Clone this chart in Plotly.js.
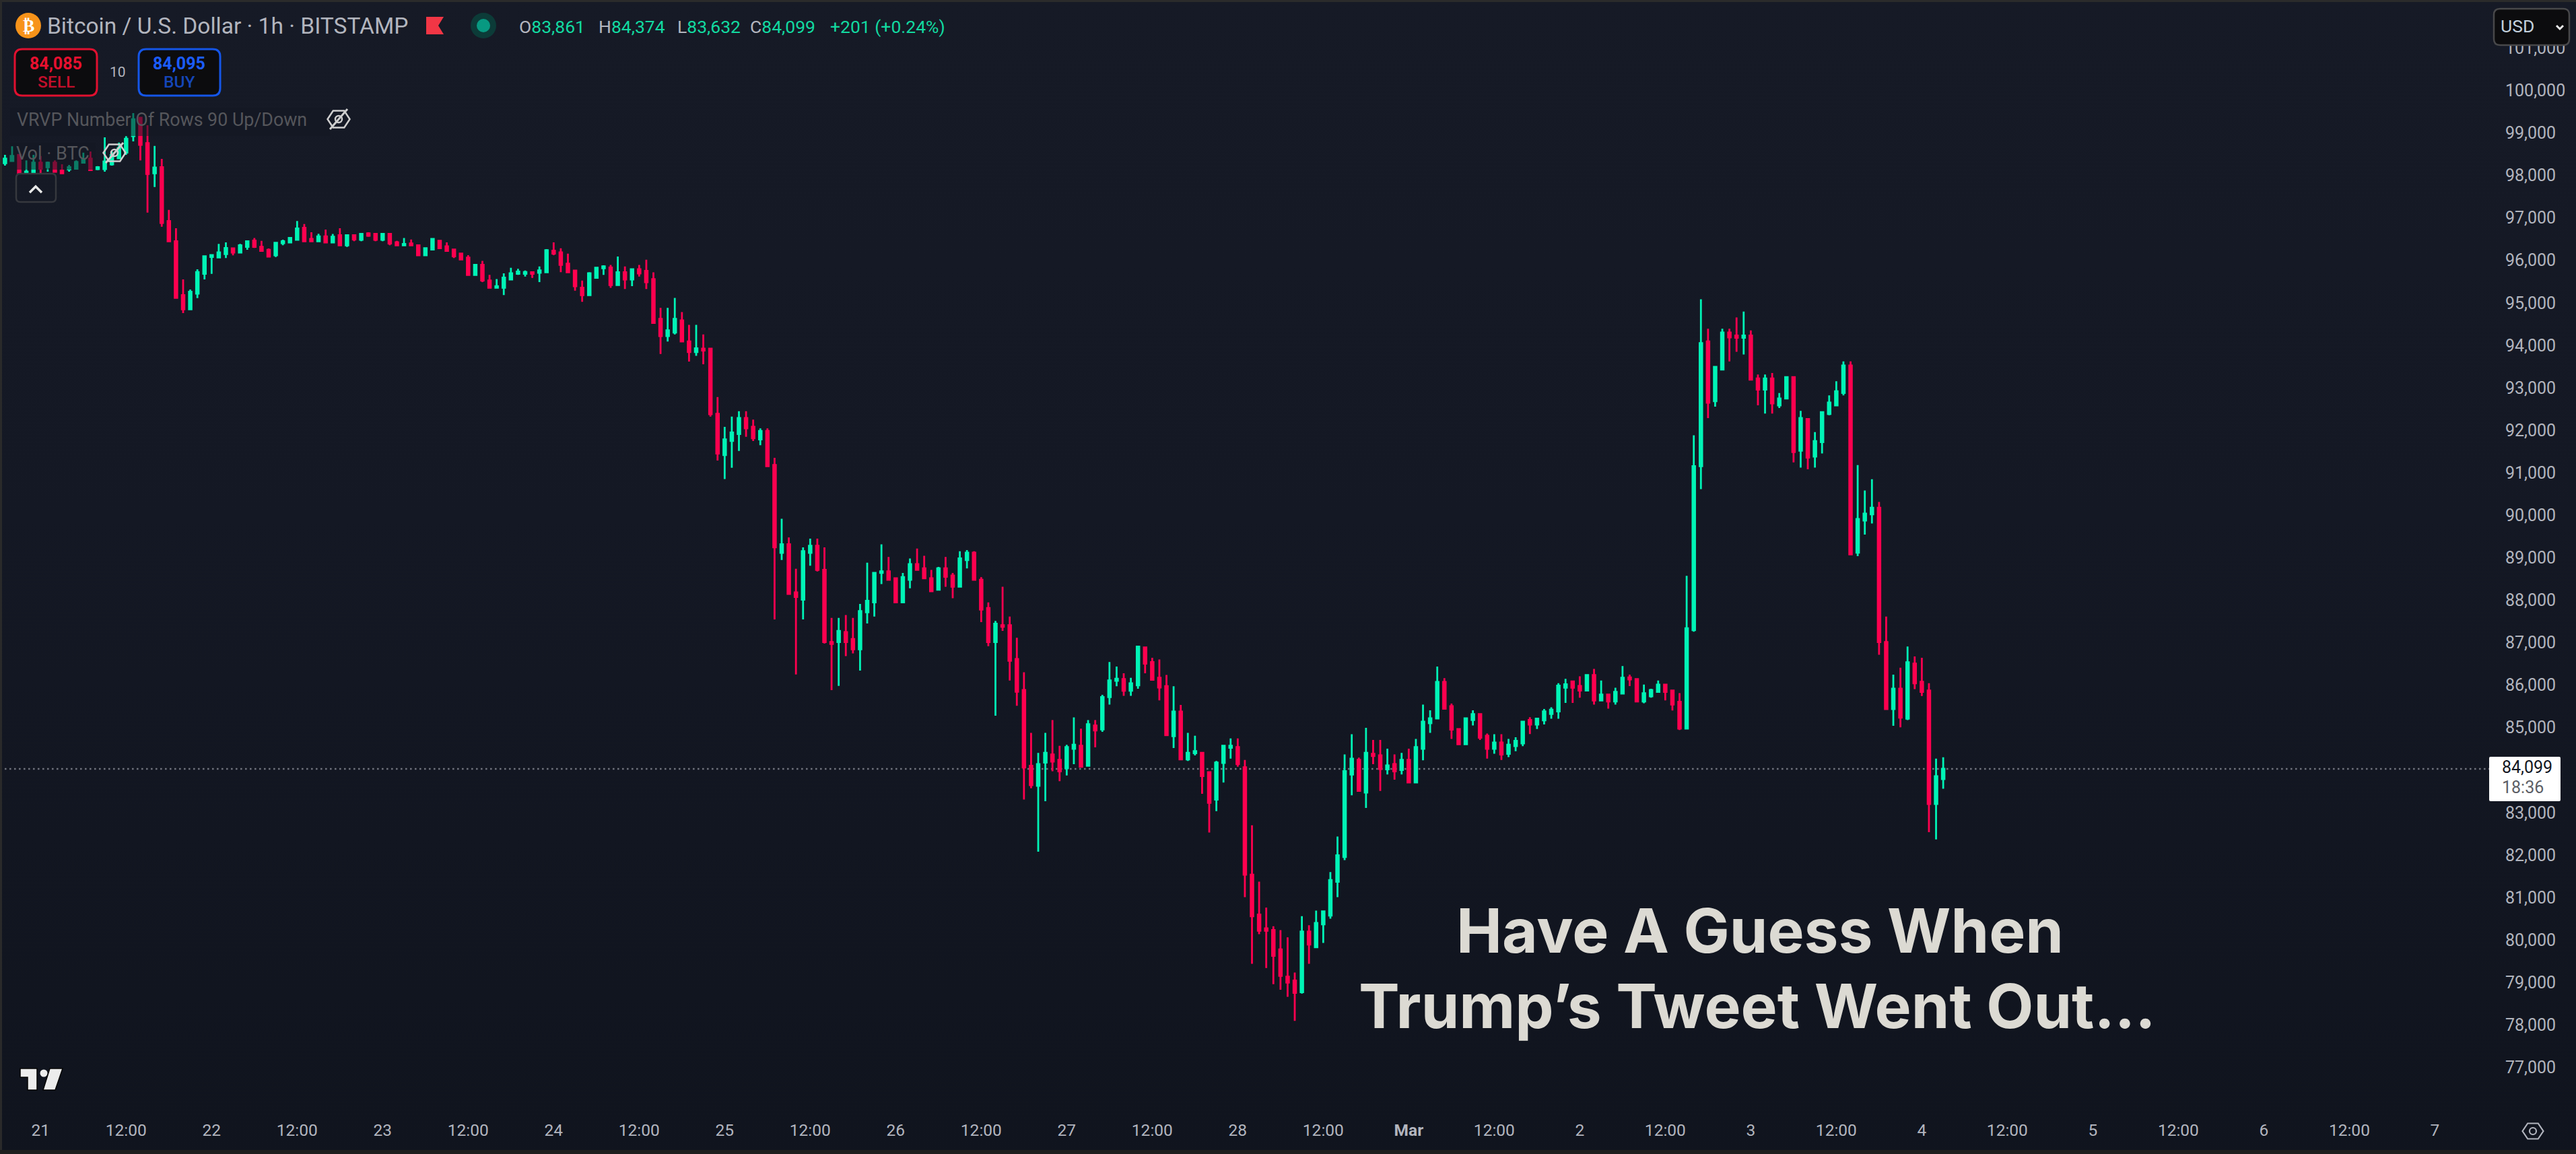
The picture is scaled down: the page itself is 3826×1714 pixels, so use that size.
<!DOCTYPE html>
<html><head><meta charset="utf-8">
<script src="https://cdn.plot.ly/plotly-3.0.1.min.js"></script>
<style>html,body{margin:0;padding:0;width:3826px;height:1714px;overflow:hidden;background:linear-gradient(180deg,#161a26 0%,#141824 45%,#10141e 100%)}#chart{width:3826px;height:1714px}</style>
</head><body><div id="chart"></div>
<script>
const firstBar = '2025-02-20T19:00:00';
const opens = [98359,98411,98554,98121,98121,98369,98263,98369,98184,98211,98227,98369,98464,98221,98221,98332,98475,98607,98998,99426,
98829,98121,98263,96996,96520,95252,94919,95289,95754,96150,
96140,96219,96351,96256,96388,96536,96388,96319,96193,96478,
96494,96557,96837,96573,96520,96636,96494,96663,96425,96663,
96557,96705,96694,96557,96694,96494,96425,96467,96425,96192,
96325,96531,96399,96325,96230,96134,95728,95965,95595,95426,
95426,95622,95754,95754,95791,95780,95791,96298,96256,95992,
95828,95426,95252,95659,95886,95902,95490,95791,95622,95860,
95823,95626,94692,94289,94374,94657,94162,93914,93992,93992,
92456,91487,91820,91982,92357,92152,91855,92053,91254,89187,
89385,88253,88083,89187,89350,88784,87086,87086,87319,87157,
86916,87786,88020,88713,88749,88586,88020,88550,88918,88819,
88586,88317,88819,88650,88388,89017,89187,88550,87885,87086,
87482,87482,86683,85955,84173,83703,84249,84439,84310,84113,
84575,84643,84173,85121,85030,85789,86175,86213,85940,86069,
86957,86615,86244,86046,84871,85447,84325,84469,84477,84022,
83377,84242,84598,84613,84135,81610,80670,80343,80305,79850,
79206,79115,78842,80268,79903,80442,80647,81443,82027,83968,
84310,83544,84454,84416,84090,84211,84075,84310,83779,84575,
85174,85288,86145,85576,85038,84681,85250,85387,84879,84575,
84719,84454,84635,84700,85250,85145,85242,85395,85452,86010,
86156,86050,85945,86309,85711,85848,85687,85873,86253,86212,
85687,85808,85913,86083,85945,85679,85048,87368,91226,94161,
92755,93499,94372,94299,94251,94299,93288,93030,93288,92658,
92819,93321,91590,92334,91453,91792,92455,92658,92949,93596,
89188,89948,90094,90248,87086,85509,85986,85282,86576,86148,
85945,83275,83861];
const highs = [98554,98755,98570,98422,98554,98528,98396,98422,98332,98316,98422,98607,98633,98290,98966,98633,98845,98993,99537,99442,
99251,98765,98459,97260,96827,95622,95384,95860,96170,96193,
96457,96494,96362,96457,96536,96599,96531,96351,96494,96557,
96599,96996,96927,96731,96695,96795,96694,96826,96670,96670,
96694,96731,96694,96694,96694,96531,96599,96562,96425,96356,
96599,96531,96494,96325,96230,96192,95965,96060,95728,95632,
95765,95897,95870,95833,95791,95928,96335,96494,96356,96230,
95828,95595,95791,95897,95955,95965,96161,95928,95860,95965,
96087,95789,94954,94954,95188,94855,94551,94551,94325,93992,
92853,92152,92393,92520,92520,92322,92117,92117,91423,89987,
89548,88812,89315,89520,89520,89315,87652,87652,87723,87652,
87984,88954,88713,89385,89088,88586,88713,89053,89286,89117,
88784,88855,89088,88713,89223,89251,89223,88614,88020,87581,
88388,87687,87185,86373,84947,84477,84947,85250,84643,84666,
85311,85045,85250,85250,85842,86615,86509,86350,86244,86979,
86979,86714,86676,86312,86046,85607,84947,84879,84477,84037,
84287,84643,84818,84818,84310,82770,81443,80836,80396,80305,
80131,79304,80632,80419,80761,80745,81670,82505,84439,84917,
84363,85068,84780,84780,84575,84439,84477,84575,84803,85614,
85478,86509,86236,85637,85038,85288,85478,85402,84932,84917,
84917,84803,84846,85210,85315,85282,85509,85549,86115,86220,
86180,86277,86309,86455,86180,85848,86010,86520,86317,86212,
86083,85986,86180,86083,85945,85881,88646,91954,95156,94461,
93579,94461,94461,94728,94865,94421,93385,93385,93418,92949,
93321,93321,92528,92358,92027,92520,92892,93224,93693,93693,
91250,90652,90919,90385,87684,86317,86479,86981,86746,86714,
86115,84342,84374];
const lows = [98300,98406,98121,98121,98121,98121,98158,98158,98121,98158,98227,98369,98195,98195,98158,98300,98475,98554,98871,98422,
97196,97799,96864,96520,95189,94830,94919,95184,95622,95754,
96124,96124,96187,96256,96319,96362,96293,96161,96150,96425,
96494,96557,96520,96520,96520,96494,96494,96425,96388,96520,
96520,96626,96520,96520,96425,96425,96425,96425,96192,96192,
96325,96356,96293,96124,96092,95728,95728,95558,95426,95426,
95252,95622,95728,95691,95659,95558,95791,96192,95791,95791,
95358,95094,95252,95659,95728,95426,95490,95395,95463,95691,
95395,94590,93865,94162,94325,94162,93688,93822,93624,92393,
91360,90921,91190,91586,91919,91820,91721,91225,87617,89017,
88218,86322,87617,88883,88749,87050,85954,86053,86753,86817,
86414,87524,87687,88451,88550,88020,88020,88352,88784,88586,
88282,88317,88388,88119,88388,88819,88550,87553,86987,85352,
87348,86180,85586,83377,83642,82148,83339,84044,83809,83946,
84211,84135,84173,84606,84970,85614,86046,85819,85819,85986,
86350,86183,85713,84879,84590,84310,84287,84416,83513,82603,
83104,83779,84340,84151,81079,79509,80207,79410,79031,78902,
78736,78167,78811,79509,79903,80002,80571,81079,81951,83476,
83582,83180,84211,83582,83968,83847,83968,83779,83779,84302,
84947,85288,85516,84803,84681,84681,85121,84780,84340,84454,
84310,84378,84514,84635,84918,85040,85145,85282,85282,85654,
85654,85776,85945,85614,85711,85517,85614,85873,86050,85687,
85646,85776,85913,85711,85476,85016,85048,87328,90684,92358,
92625,93499,93693,93919,93854,93264,92658,92463,92463,92593,
92819,91315,91194,91153,91194,91525,92423,92658,92892,89148,
89107,89617,89876,86786,85509,85112,85080,85250,85978,85816,
82610,82440,83632];
const closes = [98464,98528,98121,98158,98369,98227,98369,98158,98121,98263,98385,98449,98195,98263,98396,98554,98713,98934,99394,98792,
98105,98253,96953,96520,95189,94919,95331,95796,96166,96193,
96256,96362,96256,96425,96520,96388,96293,96161,96483,96520,
96599,96821,96520,96520,96636,96494,96626,96425,96663,96562,
96694,96652,96557,96694,96467,96425,96457,96425,96192,96356,
96573,96356,96293,96166,96092,95728,95965,95595,95426,95463,
95664,95765,95807,95796,95754,95833,96309,96230,95965,95791,
95463,95252,95765,95897,95928,95490,95791,95622,95860,95765,
95558,94600,94289,94424,94692,94162,93914,93999,93949,92449,
91523,91855,92018,92357,92117,91883,92053,91225,89315,89385,
88218,88147,89223,89350,88784,87086,87043,87348,87086,86916,
87815,88055,88713,88749,88550,88020,88614,88918,88784,88586,
88282,88819,88621,88388,89053,89187,88550,87850,87086,87517,
87447,86647,85918,84135,83718,84211,84477,84272,84044,84613,
84666,84151,85152,85007,85789,86183,86221,85940,86115,86979,
86577,86198,86016,84894,85447,84325,84477,84515,83931,83301,
84249,84643,84643,84211,81610,80632,80290,80290,79699,79228,
79069,78827,80268,79964,80472,80745,81481,82065,84044,84340,
83582,84477,84401,84097,84181,84044,84310,83779,84613,85212,
85288,86145,85516,85023,84681,85288,85387,84833,84575,84719,
84439,84666,84757,85210,85145,85282,85452,85492,86059,86091,
86010,85945,86309,85711,85848,85687,85913,86245,86204,85687,
85881,85954,86083,85913,85614,85048,87409,91226,94121,92722,
93563,94372,94259,94251,94299,93264,93030,93288,92706,92819,
93321,91558,92358,91428,91817,92496,92722,92989,93596,89148,
89981,90110,90248,87086,85509,85986,85307,86609,86115,85913,
83275,83925,84099];

const priceTicks = [77000,78000,79000,80000,81000,82000,83000,85000,86000,87000,88000,89000,90000,91000,92000,93000,94000,95000,96000,97000,98000,99000,100000,101000];
const timeTicks = ['2025-02-21 00:00','2025-02-21 12:00','2025-02-22 00:00','2025-02-22 12:00','2025-02-23 00:00','2025-02-23 12:00','2025-02-24 00:00','2025-02-24 12:00','2025-02-25 00:00','2025-02-25 12:00','2025-02-26 00:00','2025-02-26 12:00','2025-02-27 00:00','2025-02-27 12:00','2025-02-28 00:00','2025-02-28 12:00','2025-03-01 00:00','2025-03-01 12:00','2025-03-02 00:00','2025-03-02 12:00','2025-03-03 00:00','2025-03-03 12:00','2025-03-04 00:00','2025-03-04 12:00','2025-03-05 00:00','2025-03-05 12:00','2025-03-06 00:00','2025-03-06 12:00','2025-03-07 00:00'];
const timeLabels = ['21','12:00','22','12:00','23','12:00','24','12:00','25','12:00','26','12:00','27','12:00','28','12:00','<b>Mar</b>','12:00','2','12:00','3','12:00','4','12:00','5','12:00','6','12:00','7'];
const lastPrice = 84099;

if (new Set([opens.length,highs.length,lows.length,closes.length]).size!==1) throw new Error('len '+[opens.length,highs.length,lows.length,closes.length]);

const W=3826,H=1714,L=0,T=0,R=126,B=74;
const PW=W-L-R, PH=H-T-B;
const X=p=>(p-L)/PW, Y=p=>1-(p-T)/PH;
const t0=Date.parse(firstBar+'Z');
const dates=opens.map((_,i)=>new Date(t0+i*3600000).toISOString().slice(0,19).replace('T',' '));
const hourDate=h=>new Date(Date.parse('2025-02-21T00:00:00Z')+h*3600000).toISOString().slice(0,23).replace('T',' ');

const UP='#00f4b6',DN='#ff004f',FONT='Roboto, sans-serif',GREY='#b2b5be';
const path=(pts,close=true)=>'M'+pts.map(p=>X(p[0])+','+Y(p[1])).join(' L')+(close?' Z':'');
const rrect=(x0,y0,x1,y1,r)=>`M${X(x0+r)},${Y(y0)} L${X(x1-r)},${Y(y0)} Q${X(x1)},${Y(y0)} ${X(x1)},${Y(y0+r)} L${X(x1)},${Y(y1-r)} Q${X(x1)},${Y(y1)} ${X(x1-r)},${Y(y1)} L${X(x0+r)},${Y(y1)} Q${X(x0)},${Y(y1)} ${X(x0)},${Y(y1-r)} L${X(x0)},${Y(y0+r)} Q${X(x0)},${Y(y0)} ${X(x0+r)},${Y(y0)} Z`;
const P=(d,fill,lc,lw)=>({type:'path',xref:'paper',yref:'paper',path:d,fillcolor:fill||'rgba(0,0,0,0)',line:{color:lc||'rgba(0,0,0,0)',width:lw||0},layer:'above'});
const C=(cx,cy,rx,ry,fill,lc,lw)=>({type:'circle',xref:'paper',yref:'paper',x0:X(cx-rx),x1:X(cx+rx),y0:Y(cy+ry),y1:Y(cy-ry),fillcolor:fill||'rgba(0,0,0,0)',line:{color:lc||'rgba(0,0,0,0)',width:lw||0},layer:'above'});
const hex=(cx,cy,w,h)=>path([[cx-w/2,cy],[cx-w/4,cy-h/2],[cx+w/4,cy-h/2],[cx+w/2,cy],[cx+w/4,cy+h/2],[cx-w/4,cy+h/2]]);
const A=(text,x,y,size,color,o={})=>({xref:'paper',yref:'paper',x:X(x),y:Y(y),text,showarrow:false,xanchor:o.anchor||'left',yanchor:'middle',borderpad:0,font:{family:o.family||FONT,size,color,weight:o.weight||400}});

const shapes=[
 {type:'line',xref:'paper',yref:'y',x0:0,x1:1,y0:lastPrice,y1:lastPrice,line:{color:'#6f727c',width:2.4,dash:'2.6px,4.4px'},layer:'below'},
 P(rrect(15,160,490,202,1),'rgba(20,24,35,0.55)'),
 P(rrect(15,212,142,252,1),'rgba(20,24,35,0.55)'),
 C(42,38,19,19,'#f7931a'),
 P(path([[633,25],[659,25],[651,38],[659,51],[633,51]]),'#f23645'),
 C(718,38,19,19,'#0c3b38'),C(718,38,10,10,'#089981'),
 P(rrect(22,73,144,142,11),'#0c0c0e','#e0102f',3),
 P(rrect(206,73,327,142,11),'#0c0c0e','#1556e8',3),
 P(hex(503,177,33,25),null,'#cfcfcf',2.5),C(503,177,5,5,null,'#cfcfcf',2.5),
 P(path([[490,192],[516,162]],false),null,'#cfcfcf',3),
 P(hex(170,227,33,25),null,'#cfcfcf',2.5),C(170,227,5,5,null,'#cfcfcf',2.5),
 P(path([[157,242],[183,212]],false),null,'#cfcfcf',3),
 P(rrect(24,258,83,300,6),null,'#36383e',2.5),
 P(path([[44,286],[53,277],[62,286]],false),null,'#e8e8e8',3.5),
 P(path([[30,1587],[55,1587],[55,1619],[41,1619],[41,1600],[30,1600]]),'#ececec','#050505',1.5),
 C(65,1594,5.5,5.5,'#ececec'),
 P(path([[74,1587],[93,1587],[82,1619],[64,1619]]),'#ececec','#050505',1.5),
 P(rrect(3704,13,3816,67,9),'#0c0c0e','#48484a',2.5),
 P(path([[3797,38],[3802,43],[3807,38]],false),null,'#e8e8e8',3),
 P(rrect(3697,1124,3803,1190,2),'#ffffff'),
 P(hex(3762,1680,31,23),null,'#b2b5be',2.2),C(3762,1680,5,5,null,'#b2b5be',2.2),
 P(path([[0,0],[3826,0],[3826,3],[0,3]]),'#2b2b2b'),
 P(path([[0,0],[3,0],[3,1714],[0,1714]]),'#2a2a2a'),
 P(path([[0,1708],[3826,1708],[3826,1714],[0,1714]]),'#1d1d1d')
];

const annotations=[
 A('₿',42,38,26,'#ffffff',{anchor:'center',family:'DejaVu Sans',weight:700}),
 A('Bitcoin / U.S. Dollar · 1h · BITSTAMP',69,38,33.5,GREY),
 A(`O<span style="color:#12d9a0">83,861</span>`,770,39,26.5,GREY),
 A(`H<span style="color:#12d9a0">84,374</span>`,888,39,26.5,GREY),
 A(`L<span style="color:#12d9a0">83,632</span>`,1005,39,26.5,GREY),
 A(`C<span style="color:#12d9a0">84,099</span>`,1113,39,26.5,GREY),
 A('+201 (+0.24%)',1232,39,26.5,'#12d9a0'),
 A('84,085',83,94,25,'#e8102f',{anchor:'center',weight:700}),
 A('SELL',83,122,24.5,'#c20f2b',{anchor:'center',weight:500}),
 A('10',175,107,21,GREY,{anchor:'center'}),
 A('84,095',266,94,25,'#1b5cff',{anchor:'center',weight:700}),
 A('BUY',266,122,24.5,'#1546b8',{anchor:'center',weight:500}),
 A('VRVP Number Of Rows 90 Up/Down',24,178,26.8,'#55565b'),
 A('Vol · BTC',23,228,27,'#55565b'),
 A('USD',3713,38,26.5,'#c3d0dc'),
 A('84,099',3715,1139,25,'#131722'),
 A('18:36',3715,1169,25,'#5d5f66'),
 A('Have A Guess When',2614,1382,91,'#dcdad3',{anchor:'center',family:'Inter',weight:700}),
 A('Trump’s Tweet Went Out...',2610,1494,91,'#dcdad3',{anchor:'center',family:'Inter',weight:700})
];

const trace={type:'candlestick',x:dates,open:opens,high:highs,low:lows,close:closes,
 increasing:{line:{color:UP,width:2.8},fillcolor:UP},
 decreasing:{line:{color:DN,width:2.8},fillcolor:DN},
 whiskerwidth:0,hoverinfo:'skip',showlegend:false};
const scaleCarrier={type:'scatter',x:[],y:[],yaxis:'y2',mode:'markers',hoverinfo:'skip',showlegend:false};

const layout={width:W,height:H,margin:{l:L,r:R,t:T,b:B,pad:0},
 paper_bgcolor:'rgba(0,0,0,0)',plot_bgcolor:'rgba(0,0,0,0)',showlegend:false,boxgap:0.5,
 xaxis:{type:'date',range:[hourDate(-5.698),hourDate(343.9)],rangeslider:{visible:false},
  tickmode:'array',tickvals:timeTicks,ticktext:timeLabels,showgrid:false,zeroline:false,showline:false,
  ticks:'outside',ticklen:17,tickcolor:'rgba(0,0,0,0)',tickfont:{family:FONT,size:24.5,color:GREY},tickangle:0},
 yaxis:{side:'right',range:[102200-15.85*PH,102200],showticklabels:false,ticks:'',showgrid:false,zeroline:false,showline:false},
 yaxis2:{overlaying:'y',side:'right',anchor:'x',range:[102129-15.85*PH,102129],tickmode:'array',tickvals:priceTicks,
  ticktext:priceTicks.map(v=>v.toLocaleString('en-US')),showgrid:false,zeroline:false,showline:false,
  ticks:'outside',ticklen:15,tickcolor:'rgba(0,0,0,0)',tickfont:{family:FONT,size:25,color:GREY}},
 shapes,annotations};
Plotly.newPlot('chart',[trace,scaleCarrier],layout,{displayModeBar:false,staticPlot:true});
</script></body></html>
